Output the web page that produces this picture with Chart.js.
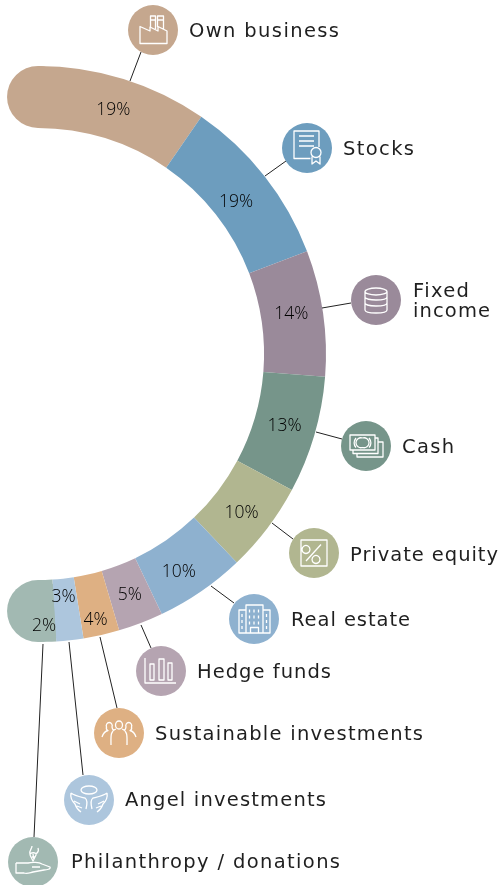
<!DOCTYPE html>
<html>
<head>
<meta charset="utf-8">
<style>html,body{margin:0;padding:0;background:#fff}canvas{display:block}</style>
<script src="https://cdn.jsdelivr.net/npm/chart.js@4/dist/chart.umd.min.js"></script>
</head>
<body>
<canvas id="c" width="500" height="885" style="width:500px;height:885px"></canvas>
<script>
const categories = ['Own business','Stocks','Fixed income','Cash','Private equity','Real estate','Hedge funds','Sustainable investments','Angel investments','Philanthropy / donations'];
const shares = [19,19,14,13,10,10,5,4,3,2];
const colors = ['#C5A78E','#6D9DBE','#9A8A9A','#76958A','#B1B690','#8EB1CF','#B5A4B1','#DEB083','#ADC6DD','#A2B9B2'];
const shareNudges = [[-1,1],[-4,7],[-1,-3],[0,0],[-1,3],[-5,6],[0,1],[1,15],[-3,-12],[-2,15]];
const badgeCentres = [[153,30],[307,148],[376,300],[366,446],[314,553],[254,619],[161,671],[119,733],[89,800],[33,862]];
const connectors = [[130,81,141,52],[265,176,286,161],[322,308,351,303],[316,432,342,439],[272,523,293,539],[211,586,234,603],[141,625,151,648],[100,637,117,708],[69,642,83,775],[43,644,34,837]];
const captionLines = [
 [['Own business',189,32,150]],[['Stocks',343,150,71]],[['Fixed',413,292,56],['income',413,312,77]],
 [['Cash',402,448,52]],[['Private equity',350,556,148]],[['Real estate',291,621,119]],[['Hedge funds',197,673,134]],
 [['Sustainable investments',155,735,268]],[['Angel investments',125,801,201]],[['Philanthropy / donations',71,863,269]]
];
const icons = [
 'M-13 13.5H14V1L5 -3.5V1L-3 -3V1L-13 -3.5ZM-2.5 -3V-14H2.5V-1M4.5 -3V-14H10.5V-1M-2.5 -10H2.5M4.5 -10H10.5',
 'M3.5 10.5H-13V-17H12V-1M-8 -12H7M-8 -7H7M-8 -2H7M14 4.5A5 5 0 1 1 4 4.5A5 5 0 1 1 14 4.5M5 8.5V16L9 13L13 16V8.5',
 'M-11 -8.5A11 3.5 0 1 1 11 -8.5A11 3.5 0 1 1 -11 -8.5M-11 -8.5V10C-11 14 11 14 11 10V-8.5M-11 -3C-11 1 11 1 11 -3M-11 3C-11 7 11 7 11 3',
 'M-16 -11H9V4H-16ZM-13 4V7.5H12V-8H9M-9 7.5V11H17V-4H12M-3.5 -8A5 5 0 1 0 -3.5 1.5A5 5 0 1 0 -3.5 -8M-10 -8C-12.5 -5 -12.5 -1 -10 1.5M3 -8C5.5 -5 5.5 -1 3 1.5',
 'M-13 -13H13V13H-13ZM-4 -3.5A4 4 0 1 1 -4 -3.6M6 6.5A4 4 0 1 1 6 6.4M7 -8.5L-8 8',
 'M-8 14V-14H9V14M-8 -9H-15V14H16V-9H9M-3.5 14V8.5H4.5V14M-4.5 -9.5V-6.5M0 -9.5V-6.5M4.5 -9.5V-6.5M-4.5 -3.5V-.5M0 -3.5V-.5M4.5 -3.5V-.5M-4.5 2.5V5.5M0 2.5V5.5M4.5 2.5V5.5M-12 -5V-2M-12 1V4M-12 7V10M12.5 -5V-2M12.5 1V4M12.5 7V10',
 'M-16 -13V12H15M-11 -7H-7V9H-11ZM-2 -12H3V9H-2ZM7 -8H11V9H7Z',
 'M-3.5 -8A3.5 4 0 1 1 3.5 -8A3.5 4 0 1 1 -3.5 -8M-3 -4C-9 -2 -8 4 -8 12M3 -4C9 -2 8 4 8 12M-5 -3C-7 -3 -6.5 -5 -7 -6A3 3.2 0 1 0 -12.5 -6C-13 -4 -12.5 -3 -11 -2.5C-15 -1.5 -16 1 -17 4M5 -3C7 -3 6.5 -5 7 -6A3 3.2 0 1 1 12.5 -6C13 -4 12.5 -3 11 -2.5C15 -1.5 16 1 17 4',
 'M-8 -10A8 4 0 1 1 8 -10A8 4 0 1 1 -8 -10M-18 -7C-14 -4 -8 -3 -4 -2C-1 0 -2 5 -3 9M-18 -7C-19 -2 -16 2 -14 4C-13 7 -11 10 -8 12M-15 1L-9 4M-12 6L-7 8M18 -7C14 -4 8 -3 4 -2C1 0 2 5 3 9M18 -7C19 -2 16 2 14 4C13 7 11 10 8 12M15 1L9 4M12 6L7 8',
 'M-17 1H-5C-1 0 6 0 9 2L17 5C18 7 14 8 11 8L0 10C-4 11 -6 12 -9 11H-17V1M-1 5H7M-3 -7L0 -1L3 -7C4 -10 -3 -10 -3 -7M-3 -8C-4 -12 -1 -13 -1 -16M3 -8C5 -10 6 -11 5 -14M-1 -5L2 -5M0 -8L1 -2'
];

const decorations = {
  id: 'decorations',
  beforeDatasetsDraw(chart) {
    const ctx = chart.ctx, arcs = chart.getDatasetMeta(0).data;
    const caps = [[arcs[0], arcs[0].startAngle], [arcs[arcs.length-1], arcs[arcs.length-1].endAngle]];
    caps.forEach(([a, angle], i) => {
      const mid = (a.outerRadius + a.innerRadius) / 2, r = (a.outerRadius - a.innerRadius) / 2;
      ctx.save();
      ctx.fillStyle = i === 0 ? colors[0] : colors[colors.length-1];
      ctx.beginPath();
      ctx.arc(a.x + Math.cos(angle) * mid, a.y + Math.sin(angle) * mid, r, 0, Math.PI * 2);
      ctx.fill();
      ctx.restore();
    });
  },
  afterDatasetsDraw(chart) {
    const ctx = chart.ctx, arcs = chart.getDatasetMeta(0).data;
    ctx.save();
    ctx.font = '300 17.5px "Open Sans"';
    ctx.fillStyle = '#000';
    ctx.textAlign = 'center';
    ctx.textBaseline = 'middle';
    arcs.forEach((a, i) => {
      const p = a.getCenterPoint();
      ctx.fillText(shares[i] + '%', p.x + shareNudges[i][0], p.y + shareNudges[i][1]);
    });
    ctx.strokeStyle = '#222';
    ctx.lineWidth = 1;
    connectors.forEach(c => {
      ctx.beginPath(); ctx.moveTo(c[0], c[1]); ctx.lineTo(c[2], c[3]); ctx.stroke();
    });
    badgeCentres.forEach((c, i) => {
      ctx.fillStyle = colors[i];
      ctx.beginPath(); ctx.arc(c[0], c[1], 25, 0, Math.PI * 2); ctx.fill();
      ctx.save();
      ctx.translate(c[0], c[1]);
      ctx.strokeStyle = '#fff';
      ctx.lineWidth = 1.3;
      ctx.lineJoin = 'round';
      ctx.stroke(new Path2D(icons[i]));
      ctx.restore();
    });
    ctx.fillStyle = '#1f1f1f';
    ctx.textAlign = 'left';
    ctx.textBaseline = 'middle';
    ctx.font = '400 19.5px "DejaVu Sans"';
    captionLines.forEach(lines => lines.forEach(([t, x, y, w]) => {
      ctx.letterSpacing = '0px';
      const natural = ctx.measureText(t).width;
      ctx.letterSpacing = ((w - natural) / (t.length - 1)).toFixed(3) + 'px';
      ctx.fillText(t, x, y);
    }));
    ctx.restore();
  }
};

new Chart(document.getElementById('c'), {
  type: 'doughnut',
  data: { labels: categories, datasets: [{ data: shares, backgroundColor: colors, borderWidth: 0, clip: false }] },
  options: {
    responsive: false,
    animation: false,
    rotation: 0,
    circumference: 180,
    cutout: '78.5%',
    layout: { padding: { left: 38, top: 66, right: 174, bottom: 243 } },
    plugins: { legend: { display: false }, tooltip: { enabled: false } }
  },
  plugins: [decorations]
});
</script>
</body>
</html>
